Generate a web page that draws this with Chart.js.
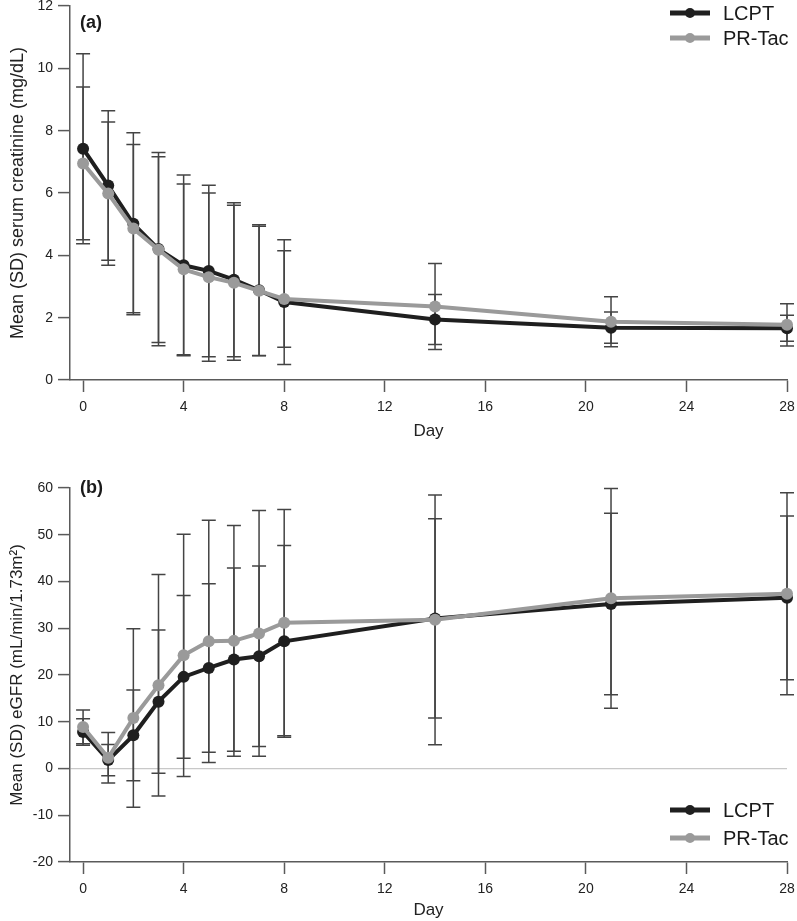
<!DOCTYPE html>
<html>
<head>
<meta charset="utf-8">
<script src="https://cdn.jsdelivr.net/npm/chart.js@4"></script>
<style>
  html, body { margin: 0; padding: 0; background: #fff; }
  #wrapA { position: absolute; left: 0; top: 0; width: 797px; height: 442px; }
  #wrapB { position: absolute; left: 0; top: 440px; width: 797px; height: 481px; }
</style>
</head>
<body>
<div id="wrapA"><canvas id="chartA"></canvas></div>
<div id="wrapB"><canvas id="chartB"></canvas></div>
<script>
const days = [0, 1, 2, 3, 4, 5, 6, 7, 8, 14, 21, 28];
const xTicks = [0, 4, 8, 12, 16, 20, 24, 28];

// (a) serum creatinine, mg/dL
const creatLCPT   = [7.42, 6.24, 5.01, 4.20, 3.68, 3.50, 3.22, 2.88, 2.50, 1.94, 1.68, 1.66];
const creatLCPTsd = [3.05, 2.40, 2.92, 3.10, 2.90, 2.75, 2.47, 2.10, 2.00, 0.80, 0.50, 0.42];
const creatPR     = [6.95, 5.98, 4.86, 4.18, 3.55, 3.30, 3.12, 2.86, 2.60, 2.36, 1.87, 1.77];
const creatPRsd   = [2.45, 2.30, 2.70, 2.98, 2.74, 2.70, 2.49, 2.07, 1.55, 1.38, 0.80, 0.68];
const creatTicks  = [0, 2, 4, 6, 8, 10, 12];

// (b) eGFR, mL/min/1.73m2
const egfrLCPT   = [7.8, 1.8, 7.1, 14.3, 19.6, 21.5, 23.3, 24.0, 27.2, 32.1, 35.2, 36.5];
const egfrLCPTsd = [2.85, 3.35, 9.7, 15.3, 17.4, 18.0, 19.6, 19.3, 20.5, 21.3, 19.4, 17.5];
const egfrPR     = [8.9, 2.3, 10.8, 17.8, 24.2, 27.2, 27.3, 28.9, 31.2, 31.8, 36.4, 37.4];
const egfrPRsd   = [3.6, 5.4, 19.1, 23.7, 25.9, 25.9, 24.7, 26.3, 24.2, 26.7, 23.5, 21.6];
const egfrTicks  = [-20, -10, 0, 10, 20, 30, 40, 50, 60];

const FONT = "'Liberation Sans', Arial, Helvetica, sans-serif";
const AXIS = "#5a5a5a";
const DARK = "#1f1f1f";
const GREY = "#9a9a9a";

// SD whiskers, drawn under the lines
const errorBars = {
  id: "errorBars",
  beforeDatasetsDraw(chart) {
    const ctx = chart.ctx;
    const xs = chart.scales.x, ys = chart.scales.y;
    ctx.save();
    ctx.strokeStyle = "#444";
    ctx.lineWidth = 1.5;
    chart.data.datasets.forEach(ds => {
      ds.data.forEach((p, i) => {
        const x = xs.getPixelForValue(p.x);
        const top = ys.getPixelForValue(p.y + ds.sd[i]);
        const bot = ys.getPixelForValue(p.y - ds.sd[i]);
        ctx.beginPath();
        ctx.moveTo(x, top); ctx.lineTo(x, bot);
        ctx.moveTo(x - 7, top); ctx.lineTo(x + 7, top);
        ctx.moveTo(x - 7, bot); ctx.lineTo(x + 7, bot);
        ctx.stroke();
      });
    });
    ctx.restore();
  }
};

const decorations = {
  id: "decorations",
  afterDraw(chart, args, opts) {
    const ctx = chart.ctx;
    const area = chart.chartArea;
    ctx.save();
    // panel letter
    ctx.fillStyle = "#1a1a1a";
    ctx.font = "bold 18px " + FONT;
    ctx.textBaseline = "middle";
    ctx.textAlign = "left";
    ctx.fillText(opts.letter, area.left + 10, area.top + opts.letterDy);
    // legend
    const lx0 = area.right - 117, lx1 = area.right - 77;
    chart.data.datasets.forEach((ds, i) => {
      const y = opts.legendY[i];
      ctx.strokeStyle = ds.borderColor;
      ctx.lineWidth = 5;
      ctx.beginPath();
      ctx.moveTo(lx0, y); ctx.lineTo(lx1, y);
      ctx.stroke();
      ctx.fillStyle = ds.borderColor;
      ctx.beginPath();
      ctx.arc((lx0 + lx1) / 2, y, 5, 0, Math.PI * 2);
      ctx.fill();
      ctx.fillStyle = "#1a1a1a";
      ctx.font = "20px " + FONT;
      ctx.fillText(ds.label, area.right - 64, y + 1);
    });
    ctx.restore();
  }
};

const toPoints = vals => vals.map((v, i) => ({ x: days[i], y: v }));

function makeChart(id, lcpt, lcptSd, pr, prSd, yMin, yMax, yTicks, yTitle, opts) {
  return new Chart(document.getElementById(id), {
    type: "line",
    data: {
      datasets: [
        { label: "LCPT", data: toPoints(lcpt), sd: lcptSd,
          borderColor: DARK, backgroundColor: DARK, borderWidth: 4,
          pointRadius: 6, pointBorderWidth: 0, order: 1, clip: false },
        { label: "PR-Tac", data: toPoints(pr), sd: prSd,
          borderColor: GREY, backgroundColor: GREY, borderWidth: 4,
          pointRadius: 6, pointBorderWidth: 0, order: 0, clip: false }
      ]
    },
    options: {
      responsive: true,
      maintainAspectRatio: false,
      animation: false,
      layout: { padding: { left: 0, right: 10, top: opts.padTop, bottom: 0 } },
      plugins: {
        legend: { display: false },
        tooltip: { enabled: false },
        decorations: opts
      },
      scales: {
        x: {
          type: "linear",
          min: -0.52, max: 28,
          afterBuildTicks: s => { s.ticks = xTicks.map(v => ({ value: v })); },
          afterFit: s => { s.height = opts.xHeight; s.paddingLeft = 0; s.paddingRight = 0; },
          border: { display: true, color: AXIS, width: 1.5 },
          grid: { drawOnChartArea: false, drawTicks: true, tickLength: 12, tickColor: AXIS, tickWidth: 1.5 },
          ticks: { color: "#222", font: { family: FONT, size: 14 }, padding: 7, maxRotation: 0 },
          title: { display: true, text: "Day", color: "#222", font: { family: FONT, size: 17 }, padding: { top: 2, bottom: 0 } }
        },
        y: {
          min: yMin, max: yMax,
          afterBuildTicks: s => { s.ticks = yTicks.map(v => ({ value: v })); },
          afterFit: s => { s.width = 70; s.paddingTop = 0; s.paddingBottom = 0; },
          border: { display: true, color: AXIS, width: 1.5 },
          grid: {
            drawOnChartArea: true, drawTicks: true, tickLength: 12, tickColor: AXIS, tickWidth: 1.5,
            color: c => (c.tick && c.tick.value === 0 && yMin < 0) ? "#c8c8c8" : "rgba(0,0,0,0)",
            lineWidth: 1.2
          },
          ticks: { color: "#222", font: { family: FONT, size: 14 }, padding: 5 },
          title: { display: true, text: yTitle, color: "#222", font: { family: FONT, size: opts.yTitleSize }, padding: { top: 7, bottom: 0 } }
        }
      }
    },
    plugins: [errorBars, decorations]
  });
}

makeChart("chartA", creatLCPT, creatLCPTsd, creatPR, creatPRsd, 0, 12, creatTicks,
  "Mean (SD) serum creatinine (mg/dL)",
  { padTop: 5, xHeight: 62, yTitleSize: 18, letter: "(a)", letterDy: 17, legendY: [13, 38] });

makeChart("chartB", egfrLCPT, egfrLCPTsd, egfrPR, egfrPRsd, -20, 60, egfrTicks,
  "Mean (SD) eGFR (mL/min/1.73m²)",
  { padTop: 48, xHeight: 59, yTitleSize: 17, letter: "(b)", letterDy: 0, legendY: [370, 398] });
</script>
</body>
</html>
